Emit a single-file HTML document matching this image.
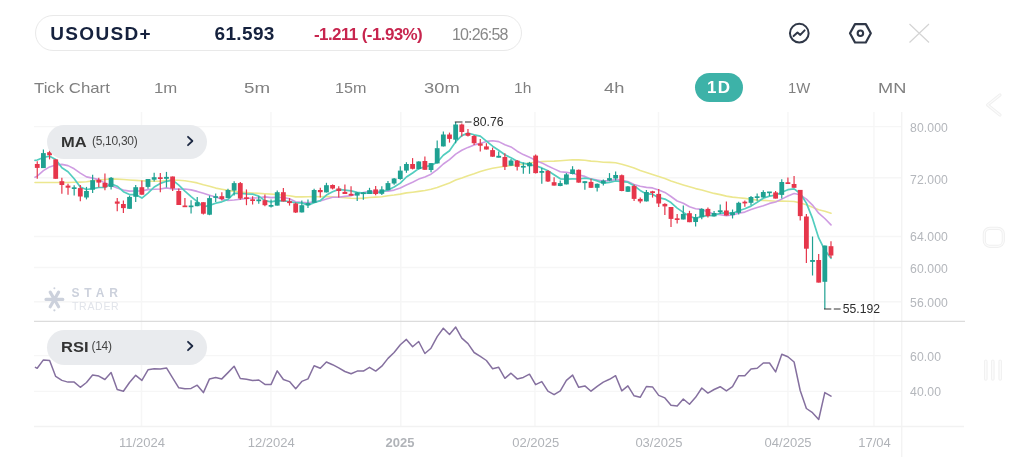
<!DOCTYPE html>
<html><head><meta charset="utf-8"><title>USOUSD+ chart</title>
<style>
html,body{margin:0;padding:0;background:#fff;}
body{width:1024px;height:473px;position:relative;overflow:hidden;font-family:"Liberation Sans",sans-serif;}
.abs{position:absolute;white-space:nowrap;line-height:1;}
.pill{position:absolute;left:35.2px;top:15.4px;width:485.2px;height:33.4px;border:1.4px solid #e9e9e9;border-radius:19px;background:#fff;}
.sym{left:50.2px;top:23.9px;font-size:19px;font-weight:bold;color:#15213d;letter-spacing:1.35px;}
.px{left:214.5px;top:23.8px;font-size:19px;font-weight:bold;color:#15213d;letter-spacing:0.35px;}
.chg{left:314px;top:26px;font-size:17px;font-weight:bold;color:#c7254e;letter-spacing:-0.6px;}
.tm{left:452px;top:26.7px;font-size:16px;color:#888;letter-spacing:-0.85px;}
.tf{top:80px;font-size:15px;color:#808080;}
.tfsel{position:absolute;left:695.4px;top:72.6px;width:48px;height:29.4px;border-radius:15px;background:#3db2a8;}
.tfsel span{position:absolute;left:-0.6px;right:0;top:6.6px;text-align:center;color:#fff;font-weight:bold;font-size:17px;line-height:1;letter-spacing:1.2px;}
.ind{position:absolute;background:#e9ebee;border-radius:17.5px;}
.ind b{position:absolute;left:14.2px;top:9px;font-size:15px;color:#333;line-height:1;transform:scaleX(1.1);transform-origin:0 0;}
.ind i{position:absolute;font-style:normal;top:10.7px;font-size:12px;color:#444;line-height:1;letter-spacing:-0.3px;}
.ax{font-size:12.2px;color:#b4b7bc;left:910px;letter-spacing:0.12px;}
.xl{font-size:13px;color:#b0b3b8;top:435.7px;transform:translateX(-50%);}
.wm1{left:71.5px;top:287.3px;font-size:12px;font-weight:bold;color:#ccd1dc;letter-spacing:4.85px;}
.wm2{left:72px;top:300.7px;font-size:10.5px;color:#e1e4ea;letter-spacing:0.7px;}
</style></head><body>
<svg width="1024" height="473" viewBox="0 0 1024 473" style="position:absolute;left:0;top:0">
<line x1="34" y1="126.6" x2="901.5" y2="126.6" stroke="#f6f6f6" stroke-width="1.4"/>
<line x1="34" y1="177.8" x2="901.5" y2="177.8" stroke="#f6f6f6" stroke-width="1.4"/>
<line x1="34" y1="236.5" x2="901.5" y2="236.5" stroke="#f6f6f6" stroke-width="1.4"/>
<line x1="34" y1="267.5" x2="901.5" y2="267.5" stroke="#f6f6f6" stroke-width="1.4"/>
<line x1="34" y1="301.7" x2="901.5" y2="301.7" stroke="#f6f6f6" stroke-width="1.4"/>
<line x1="34" y1="355.6" x2="901.5" y2="355.6" stroke="#f6f6f6" stroke-width="1.4"/>
<line x1="34" y1="391.4" x2="901.5" y2="391.4" stroke="#f6f6f6" stroke-width="1.4"/>
<line x1="141.5" y1="112" x2="141.5" y2="426" stroke="#f6f6f6" stroke-width="1.4"/>
<line x1="271" y1="112" x2="271" y2="426" stroke="#f6f6f6" stroke-width="1.4"/>
<line x1="400.8" y1="112" x2="400.8" y2="426" stroke="#f6f6f6" stroke-width="1.4"/>
<line x1="535" y1="112" x2="535" y2="426" stroke="#f6f6f6" stroke-width="1.4"/>
<line x1="658.5" y1="112" x2="658.5" y2="426" stroke="#f6f6f6" stroke-width="1.4"/>
<line x1="788" y1="112" x2="788" y2="426" stroke="#f6f6f6" stroke-width="1.4"/>
<line x1="874" y1="112" x2="874" y2="426" stroke="#f6f6f6" stroke-width="1.4"/>
<line x1="901.7" y1="112" x2="901.7" y2="457" stroke="#f3f3f3" stroke-width="1.4"/>
<line x1="34" y1="321.3" x2="965" y2="321.3" stroke="#dcdcdc" stroke-width="1.2"/>
<line x1="34" y1="426.5" x2="964" y2="426.5" stroke="#f2f2f2" stroke-width="1.4"/>
<polyline points="35,182.5 37.2,182.5 43.4,182.5 49.6,182.5 55.7,182.5 61.9,182.5 68.0,182.5 74.2,182.3 80.3,182.1 86.5,181.8 92.6,180.9 98.8,180.1 104.9,179.5 111.1,178.9 117.2,179.1 123.4,179.5 129.5,180.0 135.7,180.4 141.9,180.8 148.0,181.1 154.2,181.2 160.3,181.2 166.5,180.5 172.6,180.1 178.8,180.2 184.9,180.8 191.1,181.7 197.2,182.9 203.4,184.8 209.5,186.2 215.7,188.1 221.8,189.2 228.0,190.4 234.1,191.4 240.3,192.1 246.5,192.5 252.6,193.0 258.8,193.4 264.9,193.7 271.1,194.1 277.2,194.5 283.4,195.2 289.5,195.7 295.7,196.9 301.8,196.9 308.0,196.8 314.1,196.5 320.3,196.7 326.4,196.4 332.6,196.7 338.7,197.2 344.9,197.7 351.1,198.3 357.2,198.5 363.4,198.1 369.5,197.5 375.7,197.1 381.8,196.7 388.0,195.7 394.1,195.0 400.3,194.1 406.4,192.9 412.6,192.2 418.7,191.4 424.9,190.5 431.0,189.3 437.2,187.5 443.3,185.2 449.5,182.9 455.7,180.1 461.8,178.1 468.0,175.8 474.1,173.8 480.3,171.6 486.4,169.8 492.6,168.3 498.7,167.2 504.9,166.3 511.0,165.5 517.2,164.8 523.3,164.0 529.5,163.0 535.6,162.3 541.8,161.6 547.9,161.2 554.1,161.1 560.3,160.7 566.4,160.3 572.6,159.8 578.7,159.9 584.9,160.3 591.0,161.1 597.2,161.5 603.3,162.2 609.5,162.4 615.6,162.8 621.8,164.2 627.9,166.0 634.1,168.0 640.2,170.6 646.4,172.6 652.5,174.5 658.7,176.6 664.9,178.6 671.0,180.9 677.2,183.0 683.3,184.9 689.5,186.7 695.6,188.6 701.8,190.0 707.9,191.7 714.1,193.4 720.2,194.6 726.4,196.1 732.5,197.1 738.7,197.7 744.8,198.4 751.0,199.2 757.2,200.1 763.3,200.4 769.5,200.8 775.6,201.2 781.8,201.1 787.9,201.2 794.1,201.5 800.2,202.9 806.4,204.8 812.5,207.2 818.7,209.8 824.8,211.2 831.0,213.3" fill="none" stroke="#ece78f" stroke-width="1.6" stroke-linejoin="round" stroke-linecap="round"/>
<polyline points="35,177.2 37.2,176.2 43.4,170.6 49.6,166.9 55.7,165.0 61.9,164.4 68.0,165.6 74.2,168.8 80.3,173.1 86.5,176.9 92.6,178.1 98.8,179.6 104.9,183.1 111.1,185.4 117.2,187.9 123.4,190.1 129.5,191.1 135.7,191.0 141.9,190.9 148.0,189.6 154.2,189.3 160.3,189.0 166.5,187.9 172.6,189.0 178.8,189.1 184.9,189.0 191.1,189.9 197.2,191.4 203.4,193.3 209.5,195.2 215.7,197.1 221.8,199.2 228.0,200.5 234.1,200.0 240.3,199.3 246.5,198.5 252.6,198.0 258.8,197.7 264.9,196.9 271.1,197.6 277.2,197.2 283.4,197.5 289.5,198.8 295.7,201.7 301.8,202.4 308.0,202.9 314.1,201.8 320.3,201.0 326.4,199.0 332.6,197.3 338.7,197.2 344.9,196.4 351.1,195.7 357.2,193.7 363.4,192.5 369.5,191.2 375.7,191.6 381.8,191.3 388.0,191.1 394.1,190.1 400.3,188.0 406.4,185.0 412.6,182.3 418.7,179.1 424.9,176.9 431.0,174.2 437.2,169.6 443.3,164.0 449.5,159.6 455.7,154.1 461.8,150.3 468.0,147.4 474.1,144.9 480.3,143.4 486.4,141.4 492.6,140.8 498.7,141.6 504.9,144.7 511.0,146.9 517.2,151.2 523.3,154.6 529.5,157.3 535.6,160.3 541.8,162.9 547.9,166.0 554.1,168.9 560.3,171.7 566.4,172.4 572.6,173.3 578.7,174.9 584.9,176.4 591.0,178.9 597.2,180.0 603.3,181.0 609.5,180.6 615.6,179.6 621.8,180.3 627.9,181.5 634.1,184.5 640.2,186.3 646.4,187.4 652.5,187.9 658.7,189.9 664.9,192.4 671.0,196.5 677.2,201.0 683.3,203.2 689.5,206.8 695.6,208.7 701.8,209.4 707.9,211.9 714.1,213.9 720.2,214.7 726.4,215.6 732.5,214.9 738.7,213.2 744.8,212.1 751.0,209.6 757.2,207.5 763.3,205.8 769.5,203.4 775.6,202.0 781.8,199.1 787.9,196.0 794.1,193.5 800.2,194.8 806.4,199.1 812.5,205.1 818.7,213.2 824.8,218.5 831.0,224.9" fill="none" stroke="#cf9ce2" stroke-width="1.6" stroke-linejoin="round" stroke-linecap="round"/>
<polyline points="35,160.4 37.2,160.0 43.4,157.5 49.6,156.2 55.7,159.5 61.9,167.8 68.0,171.8 74.2,178.7 80.3,187.1 86.5,189.5 92.6,188.6 98.8,187.5 104.9,187.5 111.1,183.7 117.2,186.2 123.4,191.7 129.5,194.6 135.7,194.6 141.9,198.1 148.0,193.1 154.2,187.0 160.3,183.4 166.5,181.3 172.6,180.1 178.8,185.2 184.9,191.1 191.1,196.6 197.2,201.7 203.4,206.8 209.5,205.4 215.7,203.2 221.8,201.8 228.0,199.4 234.1,193.3 240.3,193.3 246.5,193.8 252.6,194.1 258.8,196.1 264.9,200.6 271.1,201.9 277.2,200.7 283.4,200.8 289.5,201.5 295.7,202.9 301.8,202.9 308.0,205.1 314.1,202.7 320.3,200.6 326.4,195.1 332.6,191.8 338.7,189.4 344.9,190.2 351.1,190.9 357.2,192.3 363.4,193.2 369.5,193.0 375.7,193.0 381.8,191.8 388.0,189.9 394.1,187.0 400.3,183.1 406.4,177.0 412.6,173.0 418.7,168.6 424.9,166.9 431.0,165.4 437.2,162.2 443.3,155.3 449.5,150.7 455.7,141.7 461.8,135.6 468.0,133.1 474.1,134.8 480.3,136.2 486.4,141.2 492.6,146.2 498.7,150.2 504.9,154.8 511.0,157.8 517.2,161.3 523.3,163.2 529.5,164.6 535.6,165.8 541.8,167.9 547.9,170.8 554.1,174.7 560.3,178.8 566.4,179.1 572.6,178.8 578.7,179.0 584.9,178.1 591.0,179.0 597.2,180.9 603.3,183.2 609.5,182.3 615.6,181.0 621.8,181.7 627.9,182.2 634.1,185.8 640.2,190.4 646.4,193.9 652.5,194.2 658.7,197.7 664.9,199.1 671.0,202.6 677.2,208.1 683.3,212.4 689.5,216.2 695.6,218.4 701.8,216.4 707.9,215.6 714.1,215.5 720.2,213.1 726.4,212.8 732.5,213.4 738.7,210.8 744.8,208.8 751.0,206.1 757.2,202.3 763.3,198.3 769.5,196.1 775.6,195.2 781.8,192.2 787.9,189.7 794.1,188.8 800.2,193.5 806.4,203.1 812.5,218.4 818.7,237.9 824.8,250.1 831.0,258.3" fill="none" stroke="#52cdbf" stroke-width="1.7" stroke-linejoin="round" stroke-linecap="round"/>
<line x1="37.25" y1="161.2" x2="37.25" y2="178.8" stroke="#e6364b" stroke-width="1.2"/>
<rect x="34.85" y="164.0" width="4.8" height="3.9" fill="#e6364b"/>
<line x1="43.40" y1="149.4" x2="43.40" y2="168.1" stroke="#1fa192" stroke-width="1.2"/>
<rect x="41.00" y="153.1" width="4.8" height="15.0" fill="#1fa192"/>
<line x1="49.56" y1="150.6" x2="49.56" y2="159.4" stroke="#e6364b" stroke-width="1.2"/>
<rect x="47.16" y="152.2" width="4.8" height="3.0" fill="#e6364b"/>
<line x1="55.71" y1="159.4" x2="55.71" y2="178.8" stroke="#e6364b" stroke-width="1.2"/>
<rect x="53.31" y="159.4" width="4.8" height="19.4" fill="#e6364b"/>
<line x1="61.86" y1="177.8" x2="61.86" y2="193.8" stroke="#e6364b" stroke-width="1.2"/>
<rect x="59.46" y="181.2" width="4.8" height="3.8" fill="#e6364b"/>
<line x1="68.02" y1="183.8" x2="68.02" y2="194.8" stroke="#e6364b" stroke-width="1.2"/>
<rect x="65.61" y="185.6" width="4.8" height="2.1" fill="#e6364b"/>
<line x1="74.17" y1="185.2" x2="74.17" y2="195.6" stroke="#1fa192" stroke-width="1.2"/>
<rect x="71.77" y="187.3" width="4.8" height="1.7" fill="#1fa192"/>
<line x1="80.32" y1="185.0" x2="80.32" y2="201.2" stroke="#e6364b" stroke-width="1.2"/>
<rect x="77.92" y="188.1" width="4.8" height="8.4" fill="#e6364b"/>
<line x1="86.47" y1="186.9" x2="86.47" y2="199.4" stroke="#1fa192" stroke-width="1.2"/>
<rect x="84.07" y="191.0" width="4.8" height="6.5" fill="#1fa192"/>
<line x1="92.63" y1="174.8" x2="92.63" y2="193.1" stroke="#1fa192" stroke-width="1.2"/>
<rect x="90.23" y="180.2" width="4.8" height="9.5" fill="#1fa192"/>
<line x1="98.78" y1="177.8" x2="98.78" y2="187.2" stroke="#e6364b" stroke-width="1.2"/>
<rect x="96.38" y="179.8" width="4.8" height="2.8" fill="#e6364b"/>
<line x1="104.93" y1="173.5" x2="104.93" y2="190.2" stroke="#e6364b" stroke-width="1.2"/>
<rect x="102.53" y="182.9" width="4.8" height="4.4" fill="#e6364b"/>
<line x1="111.09" y1="176.9" x2="111.09" y2="189.4" stroke="#1fa192" stroke-width="1.2"/>
<rect x="108.69" y="177.8" width="4.8" height="9.1" fill="#1fa192"/>
<line x1="117.24" y1="198.1" x2="117.24" y2="211.2" stroke="#e6364b" stroke-width="1.2"/>
<rect x="114.84" y="201.5" width="4.8" height="2.2" fill="#e6364b"/>
<line x1="123.39" y1="200.6" x2="123.39" y2="213.1" stroke="#e6364b" stroke-width="1.2"/>
<rect x="120.99" y="204.0" width="4.8" height="4.1" fill="#e6364b"/>
<line x1="129.54" y1="195.6" x2="129.54" y2="208.8" stroke="#1fa192" stroke-width="1.2"/>
<rect x="127.14" y="196.9" width="4.8" height="11.9" fill="#1fa192"/>
<line x1="135.70" y1="185.0" x2="135.70" y2="201.9" stroke="#1fa192" stroke-width="1.2"/>
<rect x="133.30" y="187.2" width="4.8" height="9.6" fill="#1fa192"/>
<line x1="141.85" y1="180.6" x2="141.85" y2="194.8" stroke="#e6364b" stroke-width="1.2"/>
<rect x="139.45" y="187.2" width="4.8" height="7.5" fill="#e6364b"/>
<line x1="148.00" y1="179.0" x2="148.00" y2="188.8" stroke="#1fa192" stroke-width="1.2"/>
<rect x="145.60" y="179.0" width="4.8" height="7.9" fill="#1fa192"/>
<line x1="154.16" y1="172.8" x2="154.16" y2="181.5" stroke="#1fa192" stroke-width="1.2"/>
<rect x="151.76" y="177.2" width="4.8" height="2.5" fill="#1fa192"/>
<line x1="160.31" y1="173.1" x2="160.31" y2="192.2" stroke="#e6364b" stroke-width="1.2"/>
<rect x="157.91" y="177.3" width="4.8" height="1.7" fill="#e6364b"/>
<line x1="166.46" y1="171.9" x2="166.46" y2="187.5" stroke="#1fa192" stroke-width="1.2"/>
<rect x="164.06" y="176.9" width="4.8" height="1.9" fill="#1fa192"/>
<line x1="172.62" y1="176.5" x2="172.62" y2="191.0" stroke="#e6364b" stroke-width="1.2"/>
<rect x="170.22" y="176.5" width="4.8" height="12.0" fill="#e6364b"/>
<line x1="178.77" y1="188.5" x2="178.77" y2="205.0" stroke="#e6364b" stroke-width="1.2"/>
<rect x="176.37" y="191.0" width="4.8" height="14.0" fill="#e6364b"/>
<line x1="184.92" y1="198.1" x2="184.92" y2="207.1" stroke="#e6364b" stroke-width="1.2"/>
<rect x="182.52" y="205.5" width="4.8" height="1.7" fill="#e6364b"/>
<line x1="191.07" y1="200.2" x2="191.07" y2="213.5" stroke="#1fa192" stroke-width="1.2"/>
<rect x="188.67" y="205.5" width="4.8" height="1.7" fill="#1fa192"/>
<line x1="197.23" y1="196.9" x2="197.23" y2="206.2" stroke="#1fa192" stroke-width="1.2"/>
<rect x="194.83" y="202.2" width="4.8" height="4.0" fill="#1fa192"/>
<line x1="203.38" y1="202.2" x2="203.38" y2="214.4" stroke="#e6364b" stroke-width="1.2"/>
<rect x="200.98" y="202.2" width="4.8" height="11.5" fill="#e6364b"/>
<line x1="209.53" y1="195.6" x2="209.53" y2="215.2" stroke="#1fa192" stroke-width="1.2"/>
<rect x="207.13" y="198.1" width="4.8" height="16.6" fill="#1fa192"/>
<line x1="215.69" y1="193.5" x2="215.69" y2="201.9" stroke="#1fa192" stroke-width="1.2"/>
<rect x="213.29" y="196.2" width="4.8" height="1.7" fill="#1fa192"/>
<line x1="221.84" y1="192.2" x2="221.84" y2="200.6" stroke="#e6364b" stroke-width="1.2"/>
<rect x="219.44" y="196.2" width="4.8" height="2.8" fill="#e6364b"/>
<line x1="227.99" y1="188.8" x2="227.99" y2="198.1" stroke="#1fa192" stroke-width="1.2"/>
<rect x="225.59" y="190.0" width="4.8" height="8.1" fill="#1fa192"/>
<line x1="234.15" y1="181.2" x2="234.15" y2="195.6" stroke="#1fa192" stroke-width="1.2"/>
<rect x="231.75" y="183.1" width="4.8" height="7.5" fill="#1fa192"/>
<line x1="240.30" y1="181.9" x2="240.30" y2="199.8" stroke="#e6364b" stroke-width="1.2"/>
<rect x="237.90" y="183.1" width="4.8" height="15.4" fill="#e6364b"/>
<line x1="246.45" y1="189.4" x2="246.45" y2="205.2" stroke="#e6364b" stroke-width="1.2"/>
<rect x="244.05" y="197.3" width="4.8" height="1.7" fill="#e6364b"/>
<line x1="252.60" y1="196.2" x2="252.60" y2="204.4" stroke="#e6364b" stroke-width="1.2"/>
<rect x="250.20" y="199.3" width="4.8" height="1.7" fill="#e6364b"/>
<line x1="258.76" y1="196.2" x2="258.76" y2="203.8" stroke="#1fa192" stroke-width="1.2"/>
<rect x="256.36" y="199.5" width="4.8" height="1.7" fill="#1fa192"/>
<line x1="264.91" y1="194.4" x2="264.91" y2="206.2" stroke="#e6364b" stroke-width="1.2"/>
<rect x="262.51" y="200.2" width="4.8" height="5.0" fill="#e6364b"/>
<line x1="271.06" y1="199.4" x2="271.06" y2="207.5" stroke="#1fa192" stroke-width="1.2"/>
<rect x="268.66" y="205.0" width="4.8" height="1.7" fill="#1fa192"/>
<line x1="277.22" y1="190.6" x2="277.22" y2="205.6" stroke="#1fa192" stroke-width="1.2"/>
<rect x="274.82" y="192.2" width="4.8" height="13.4" fill="#1fa192"/>
<line x1="283.37" y1="188.1" x2="283.37" y2="201.5" stroke="#e6364b" stroke-width="1.2"/>
<rect x="280.97" y="192.2" width="4.8" height="9.2" fill="#e6364b"/>
<line x1="289.52" y1="198.1" x2="289.52" y2="205.6" stroke="#e6364b" stroke-width="1.2"/>
<rect x="287.12" y="201.2" width="4.8" height="1.9" fill="#e6364b"/>
<line x1="295.68" y1="202.5" x2="295.68" y2="213.1" stroke="#e6364b" stroke-width="1.2"/>
<rect x="293.28" y="203.5" width="4.8" height="9.0" fill="#e6364b"/>
<line x1="301.83" y1="200.6" x2="301.83" y2="212.5" stroke="#1fa192" stroke-width="1.2"/>
<rect x="299.43" y="205.2" width="4.8" height="7.2" fill="#1fa192"/>
<line x1="307.98" y1="199.4" x2="307.98" y2="208.1" stroke="#1fa192" stroke-width="1.2"/>
<rect x="305.58" y="203.1" width="4.8" height="2.1" fill="#1fa192"/>
<line x1="314.13" y1="188.8" x2="314.13" y2="202.8" stroke="#1fa192" stroke-width="1.2"/>
<rect x="311.74" y="190.0" width="4.8" height="12.8" fill="#1fa192"/>
<line x1="320.29" y1="187.8" x2="320.29" y2="197.5" stroke="#e6364b" stroke-width="1.2"/>
<rect x="317.89" y="190.0" width="4.8" height="2.2" fill="#e6364b"/>
<line x1="326.44" y1="182.8" x2="326.44" y2="192.5" stroke="#1fa192" stroke-width="1.2"/>
<rect x="324.04" y="185.2" width="4.8" height="7.2" fill="#1fa192"/>
<line x1="332.59" y1="184.4" x2="332.59" y2="189.4" stroke="#e6364b" stroke-width="1.2"/>
<rect x="330.19" y="185.0" width="4.8" height="3.5" fill="#e6364b"/>
<line x1="338.75" y1="186.2" x2="338.75" y2="197.5" stroke="#e6364b" stroke-width="1.2"/>
<rect x="336.35" y="188.5" width="4.8" height="2.5" fill="#e6364b"/>
<line x1="344.90" y1="184.4" x2="344.90" y2="194.0" stroke="#e6364b" stroke-width="1.2"/>
<rect x="342.50" y="191.9" width="4.8" height="2.1" fill="#e6364b"/>
<line x1="351.05" y1="186.2" x2="351.05" y2="195.6" stroke="#e6364b" stroke-width="1.2"/>
<rect x="348.65" y="193.8" width="4.8" height="1.9" fill="#e6364b"/>
<line x1="357.21" y1="191.9" x2="357.21" y2="201.0" stroke="#1fa192" stroke-width="1.2"/>
<rect x="354.81" y="192.5" width="4.8" height="3.1" fill="#1fa192"/>
<line x1="363.36" y1="191.9" x2="363.36" y2="199.8" stroke="#1fa192" stroke-width="1.2"/>
<rect x="360.96" y="192.4" width="4.8" height="1.7" fill="#1fa192"/>
<line x1="369.51" y1="187.8" x2="369.51" y2="194.0" stroke="#1fa192" stroke-width="1.2"/>
<rect x="367.11" y="190.2" width="4.8" height="3.8" fill="#1fa192"/>
<line x1="375.66" y1="186.0" x2="375.66" y2="195.2" stroke="#e6364b" stroke-width="1.2"/>
<rect x="373.26" y="189.4" width="4.8" height="4.6" fill="#e6364b"/>
<line x1="381.82" y1="186.2" x2="381.82" y2="195.0" stroke="#1fa192" stroke-width="1.2"/>
<rect x="379.42" y="189.4" width="4.8" height="4.4" fill="#1fa192"/>
<line x1="387.97" y1="181.0" x2="387.97" y2="190.2" stroke="#1fa192" stroke-width="1.2"/>
<rect x="385.57" y="183.1" width="4.8" height="7.1" fill="#1fa192"/>
<line x1="394.12" y1="178.1" x2="394.12" y2="184.8" stroke="#1fa192" stroke-width="1.2"/>
<rect x="391.72" y="178.5" width="4.8" height="5.0" fill="#1fa192"/>
<line x1="400.28" y1="166.2" x2="400.28" y2="179.8" stroke="#1fa192" stroke-width="1.2"/>
<rect x="397.88" y="170.6" width="4.8" height="8.4" fill="#1fa192"/>
<line x1="406.43" y1="162.2" x2="406.43" y2="172.8" stroke="#1fa192" stroke-width="1.2"/>
<rect x="404.03" y="164.0" width="4.8" height="6.6" fill="#1fa192"/>
<line x1="412.58" y1="158.1" x2="412.58" y2="169.4" stroke="#e6364b" stroke-width="1.2"/>
<rect x="410.18" y="164.0" width="4.8" height="4.8" fill="#e6364b"/>
<line x1="418.74" y1="161.2" x2="418.74" y2="169.4" stroke="#1fa192" stroke-width="1.2"/>
<rect x="416.34" y="161.5" width="4.8" height="7.5" fill="#1fa192"/>
<line x1="424.89" y1="156.5" x2="424.89" y2="169.8" stroke="#e6364b" stroke-width="1.2"/>
<rect x="422.49" y="161.0" width="4.8" height="8.8" fill="#e6364b"/>
<line x1="431.04" y1="163.1" x2="431.04" y2="172.2" stroke="#1fa192" stroke-width="1.2"/>
<rect x="428.64" y="163.1" width="4.8" height="6.9" fill="#1fa192"/>
<line x1="437.19" y1="140.5" x2="437.19" y2="163.5" stroke="#1fa192" stroke-width="1.2"/>
<rect x="434.80" y="148.2" width="4.8" height="15.2" fill="#1fa192"/>
<line x1="443.35" y1="131.4" x2="443.35" y2="146.4" stroke="#1fa192" stroke-width="1.2"/>
<rect x="440.95" y="134.5" width="4.8" height="11.9" fill="#1fa192"/>
<line x1="449.50" y1="132.6" x2="449.50" y2="142.6" stroke="#e6364b" stroke-width="1.2"/>
<rect x="447.10" y="134.5" width="4.8" height="4.4" fill="#e6364b"/>
<line x1="455.65" y1="122.0" x2="455.65" y2="143.2" stroke="#1fa192" stroke-width="1.2"/>
<rect x="453.25" y="124.5" width="4.8" height="15.2" fill="#1fa192"/>
<line x1="461.81" y1="123.5" x2="461.81" y2="136.4" stroke="#e6364b" stroke-width="1.2"/>
<rect x="459.41" y="124.5" width="4.8" height="7.5" fill="#e6364b"/>
<line x1="467.96" y1="128.9" x2="467.96" y2="136.4" stroke="#e6364b" stroke-width="1.2"/>
<rect x="465.56" y="133.0" width="4.8" height="2.8" fill="#e6364b"/>
<line x1="474.11" y1="135.1" x2="474.11" y2="145.1" stroke="#e6364b" stroke-width="1.2"/>
<rect x="471.71" y="136.0" width="4.8" height="7.2" fill="#e6364b"/>
<line x1="480.27" y1="138.9" x2="480.27" y2="151.4" stroke="#e6364b" stroke-width="1.2"/>
<rect x="477.87" y="143.5" width="4.8" height="2.2" fill="#e6364b"/>
<line x1="486.42" y1="143.2" x2="486.42" y2="149.5" stroke="#e6364b" stroke-width="1.2"/>
<rect x="484.02" y="146.4" width="4.8" height="3.1" fill="#e6364b"/>
<line x1="492.57" y1="147.6" x2="492.57" y2="156.8" stroke="#e6364b" stroke-width="1.2"/>
<rect x="490.17" y="150.1" width="4.8" height="6.6" fill="#e6364b"/>
<line x1="498.72" y1="151.4" x2="498.72" y2="157.6" stroke="#1fa192" stroke-width="1.2"/>
<rect x="496.32" y="155.8" width="4.8" height="1.9" fill="#1fa192"/>
<line x1="504.88" y1="153.2" x2="504.88" y2="170.1" stroke="#e6364b" stroke-width="1.2"/>
<rect x="502.48" y="157.0" width="4.8" height="9.8" fill="#e6364b"/>
<line x1="511.03" y1="158.9" x2="511.03" y2="165.8" stroke="#1fa192" stroke-width="1.2"/>
<rect x="508.63" y="160.5" width="4.8" height="5.2" fill="#1fa192"/>
<line x1="517.18" y1="160.0" x2="517.18" y2="170.6" stroke="#e6364b" stroke-width="1.2"/>
<rect x="514.78" y="160.6" width="4.8" height="6.2" fill="#e6364b"/>
<line x1="523.34" y1="162.5" x2="523.34" y2="173.8" stroke="#1fa192" stroke-width="1.2"/>
<rect x="520.94" y="165.9" width="4.8" height="1.7" fill="#1fa192"/>
<line x1="529.49" y1="161.9" x2="529.49" y2="173.8" stroke="#1fa192" stroke-width="1.2"/>
<rect x="527.09" y="162.8" width="4.8" height="3.5" fill="#1fa192"/>
<line x1="535.64" y1="154.4" x2="535.64" y2="173.5" stroke="#e6364b" stroke-width="1.2"/>
<rect x="533.24" y="155.6" width="4.8" height="17.5" fill="#e6364b"/>
<line x1="541.80" y1="168.1" x2="541.80" y2="183.8" stroke="#1fa192" stroke-width="1.2"/>
<rect x="539.40" y="171.0" width="4.8" height="1.8" fill="#1fa192"/>
<line x1="547.95" y1="170.0" x2="547.95" y2="181.9" stroke="#e6364b" stroke-width="1.2"/>
<rect x="545.55" y="171.0" width="4.8" height="10.5" fill="#e6364b"/>
<line x1="554.10" y1="177.2" x2="554.10" y2="185.6" stroke="#e6364b" stroke-width="1.2"/>
<rect x="551.70" y="182.2" width="4.8" height="3.4" fill="#e6364b"/>
<line x1="560.25" y1="180.6" x2="560.25" y2="186.2" stroke="#1fa192" stroke-width="1.2"/>
<rect x="557.86" y="183.1" width="4.8" height="2.9" fill="#1fa192"/>
<line x1="566.41" y1="173.1" x2="566.41" y2="184.4" stroke="#1fa192" stroke-width="1.2"/>
<rect x="564.01" y="174.4" width="4.8" height="10.0" fill="#1fa192"/>
<line x1="572.56" y1="166.2" x2="572.56" y2="174.4" stroke="#1fa192" stroke-width="1.2"/>
<rect x="570.16" y="169.4" width="4.8" height="4.6" fill="#1fa192"/>
<line x1="578.71" y1="169.4" x2="578.71" y2="182.8" stroke="#e6364b" stroke-width="1.2"/>
<rect x="576.31" y="169.8" width="4.8" height="12.8" fill="#e6364b"/>
<line x1="584.87" y1="181.2" x2="584.87" y2="189.8" stroke="#1fa192" stroke-width="1.2"/>
<rect x="582.47" y="181.2" width="4.8" height="1.9" fill="#1fa192"/>
<line x1="591.02" y1="178.8" x2="591.02" y2="188.1" stroke="#e6364b" stroke-width="1.2"/>
<rect x="588.62" y="181.9" width="4.8" height="5.9" fill="#e6364b"/>
<line x1="597.17" y1="183.5" x2="597.17" y2="191.5" stroke="#1fa192" stroke-width="1.2"/>
<rect x="594.77" y="183.8" width="4.8" height="4.0" fill="#1fa192"/>
<line x1="603.33" y1="179.4" x2="603.33" y2="185.6" stroke="#1fa192" stroke-width="1.2"/>
<rect x="600.93" y="180.6" width="4.8" height="2.9" fill="#1fa192"/>
<line x1="609.48" y1="173.1" x2="609.48" y2="181.2" stroke="#1fa192" stroke-width="1.2"/>
<rect x="607.08" y="178.1" width="4.8" height="2.5" fill="#1fa192"/>
<line x1="615.63" y1="171.5" x2="615.63" y2="180.6" stroke="#1fa192" stroke-width="1.2"/>
<rect x="613.23" y="175.0" width="4.8" height="3.5" fill="#1fa192"/>
<line x1="621.78" y1="174.4" x2="621.78" y2="191.2" stroke="#e6364b" stroke-width="1.2"/>
<rect x="619.38" y="175.2" width="4.8" height="15.8" fill="#e6364b"/>
<line x1="627.94" y1="186.0" x2="627.94" y2="192.0" stroke="#1fa192" stroke-width="1.2"/>
<rect x="625.54" y="186.4" width="4.8" height="5.4" fill="#1fa192"/>
<line x1="634.09" y1="184.5" x2="634.09" y2="201.0" stroke="#e6364b" stroke-width="1.2"/>
<rect x="631.69" y="186.0" width="4.8" height="12.9" fill="#e6364b"/>
<line x1="640.24" y1="197.6" x2="640.24" y2="203.2" stroke="#e6364b" stroke-width="1.2"/>
<rect x="637.84" y="198.9" width="4.8" height="2.5" fill="#e6364b"/>
<line x1="646.40" y1="190.1" x2="646.40" y2="201.4" stroke="#1fa192" stroke-width="1.2"/>
<rect x="644.00" y="192.0" width="4.8" height="9.4" fill="#1fa192"/>
<line x1="652.55" y1="190.8" x2="652.55" y2="197.6" stroke="#e6364b" stroke-width="1.2"/>
<rect x="650.15" y="191.3" width="4.8" height="1.7" fill="#e6364b"/>
<line x1="658.70" y1="188.9" x2="658.70" y2="207.0" stroke="#e6364b" stroke-width="1.2"/>
<rect x="656.30" y="193.9" width="4.8" height="9.6" fill="#e6364b"/>
<line x1="664.86" y1="203.2" x2="664.86" y2="215.1" stroke="#e6364b" stroke-width="1.2"/>
<rect x="662.46" y="203.9" width="4.8" height="2.5" fill="#e6364b"/>
<line x1="671.01" y1="207.0" x2="671.01" y2="227.0" stroke="#e6364b" stroke-width="1.2"/>
<rect x="668.61" y="207.0" width="4.8" height="11.9" fill="#e6364b"/>
<line x1="677.16" y1="213.9" x2="677.16" y2="223.5" stroke="#e6364b" stroke-width="1.2"/>
<rect x="674.76" y="218.3" width="4.8" height="1.7" fill="#e6364b"/>
<line x1="683.31" y1="205.5" x2="683.31" y2="219.5" stroke="#1fa192" stroke-width="1.2"/>
<rect x="680.91" y="213.9" width="4.8" height="5.6" fill="#1fa192"/>
<line x1="689.47" y1="210.8" x2="689.47" y2="222.2" stroke="#e6364b" stroke-width="1.2"/>
<rect x="687.07" y="213.2" width="4.8" height="9.0" fill="#e6364b"/>
<line x1="695.62" y1="213.9" x2="695.62" y2="226.4" stroke="#1fa192" stroke-width="1.2"/>
<rect x="693.22" y="217.2" width="4.8" height="4.8" fill="#1fa192"/>
<line x1="701.77" y1="208.2" x2="701.77" y2="219.2" stroke="#1fa192" stroke-width="1.2"/>
<rect x="699.37" y="208.9" width="4.8" height="8.4" fill="#1fa192"/>
<line x1="707.93" y1="207.6" x2="707.93" y2="217.6" stroke="#e6364b" stroke-width="1.2"/>
<rect x="705.53" y="208.9" width="4.8" height="7.1" fill="#e6364b"/>
<line x1="714.08" y1="211.0" x2="714.08" y2="216.4" stroke="#1fa192" stroke-width="1.2"/>
<rect x="711.68" y="213.0" width="4.8" height="3.4" fill="#1fa192"/>
<line x1="720.23" y1="204.5" x2="720.23" y2="213.9" stroke="#1fa192" stroke-width="1.2"/>
<rect x="717.83" y="210.3" width="4.8" height="1.7" fill="#1fa192"/>
<line x1="726.39" y1="201.4" x2="726.39" y2="215.5" stroke="#e6364b" stroke-width="1.2"/>
<rect x="723.99" y="210.5" width="4.8" height="5.0" fill="#e6364b"/>
<line x1="732.54" y1="209.5" x2="732.54" y2="218.5" stroke="#1fa192" stroke-width="1.2"/>
<rect x="730.14" y="212.2" width="4.8" height="2.9" fill="#1fa192"/>
<line x1="738.69" y1="201.8" x2="738.69" y2="214.5" stroke="#1fa192" stroke-width="1.2"/>
<rect x="736.29" y="202.8" width="4.8" height="10.0" fill="#1fa192"/>
<line x1="744.84" y1="200.5" x2="744.84" y2="206.8" stroke="#e6364b" stroke-width="1.2"/>
<rect x="742.44" y="201.7" width="4.8" height="1.7" fill="#e6364b"/>
<line x1="751.00" y1="196.1" x2="751.00" y2="205.2" stroke="#1fa192" stroke-width="1.2"/>
<rect x="748.60" y="197.0" width="4.8" height="5.8" fill="#1fa192"/>
<line x1="757.15" y1="193.6" x2="757.15" y2="200.8" stroke="#1fa192" stroke-width="1.2"/>
<rect x="754.75" y="196.3" width="4.8" height="1.7" fill="#1fa192"/>
<line x1="763.30" y1="190.2" x2="763.30" y2="197.8" stroke="#1fa192" stroke-width="1.2"/>
<rect x="760.90" y="192.0" width="4.8" height="5.4" fill="#1fa192"/>
<line x1="769.46" y1="192.0" x2="769.46" y2="196.1" stroke="#1fa192" stroke-width="1.2"/>
<rect x="767.06" y="191.5" width="4.8" height="1.7" fill="#1fa192"/>
<line x1="775.61" y1="191.1" x2="775.61" y2="198.6" stroke="#e6364b" stroke-width="1.2"/>
<rect x="773.21" y="192.4" width="4.8" height="6.2" fill="#e6364b"/>
<line x1="781.76" y1="179.2" x2="781.76" y2="198.6" stroke="#1fa192" stroke-width="1.2"/>
<rect x="779.36" y="182.0" width="4.8" height="12.9" fill="#1fa192"/>
<line x1="787.92" y1="177.4" x2="787.92" y2="184.0" stroke="#e6364b" stroke-width="1.2"/>
<rect x="785.52" y="182.3" width="4.8" height="1.7" fill="#e6364b"/>
<line x1="794.07" y1="176.1" x2="794.07" y2="187.8" stroke="#e6364b" stroke-width="1.2"/>
<rect x="791.67" y="184.0" width="4.8" height="3.8" fill="#e6364b"/>
<line x1="800.22" y1="189.9" x2="800.22" y2="220.5" stroke="#e6364b" stroke-width="1.2"/>
<rect x="797.82" y="189.9" width="4.8" height="26.2" fill="#e6364b"/>
<line x1="806.38" y1="214.0" x2="806.38" y2="263.0" stroke="#e6364b" stroke-width="1.2"/>
<rect x="803.98" y="216.5" width="4.8" height="32.2" fill="#e6364b"/>
<line x1="812.53" y1="236.5" x2="812.53" y2="275.5" stroke="#1fa192" stroke-width="1.2"/>
<rect x="810.13" y="260.0" width="4.8" height="1.9" fill="#1fa192"/>
<line x1="818.68" y1="254.0" x2="818.68" y2="282.6" stroke="#e6364b" stroke-width="1.2"/>
<rect x="816.28" y="260.0" width="4.8" height="22.6" fill="#e6364b"/>
<line x1="824.83" y1="245.6" x2="824.83" y2="308.9" stroke="#1fa192" stroke-width="1.2"/>
<rect x="822.43" y="245.6" width="4.8" height="36.2" fill="#1fa192"/>
<line x1="830.99" y1="241.2" x2="830.99" y2="258.1" stroke="#e6364b" stroke-width="1.2"/>
<rect x="828.59" y="246.2" width="4.8" height="9.3" fill="#e6364b"/>
<path d="M454.8 122H462.5M465 122H471.5" stroke="#333" stroke-width="1" fill="none"/>
<text x="473" y="126.3" font-family="Liberation Sans, sans-serif" font-size="12.2" fill="#2c2c2c">80.76</text>
<path d="M824 309H831.3M833.8 309H840.6" stroke="#333" stroke-width="1" fill="none"/>
<text x="842.7" y="313.3" font-family="Liberation Sans, sans-serif" font-size="12.2" fill="#2c2c2c">55.192</text>
<polyline points="35.4,367.3 37.2,368.3 43.4,359.9 49.6,360.5 55.7,376.4 61.9,380.4 68.0,382.1 74.2,382.1 80.3,387.3 86.5,382.5 92.6,375.1 98.8,376.1 104.9,379.5 111.1,372.6 117.2,389.5 123.4,391.2 129.5,382.5 135.7,375.3 141.9,380.4 148.0,369.8 154.2,368.7 160.3,369.0 166.5,367.9 172.6,377.8 178.8,387.8 184.9,388.8 191.1,388.4 197.2,385.2 203.4,392.6 209.5,378.9 215.7,377.4 221.8,378.9 228.0,372.6 234.1,366.2 240.3,378.5 246.5,379.3 252.6,380.6 258.8,380.0 264.9,384.4 271.1,384.4 277.2,370.9 283.4,379.5 289.5,381.6 295.7,388.8 301.8,381.4 308.0,378.9 314.1,365.8 320.3,368.3 326.4,362.0 332.6,364.7 338.7,367.9 344.9,371.5 351.1,373.8 357.2,371.1 363.4,371.1 369.5,367.3 375.7,371.1 381.8,366.2 388.0,358.4 394.1,352.5 400.3,344.7 406.4,339.4 412.6,346.8 418.7,341.5 424.9,353.5 431.0,348.2 437.2,336.6 443.3,328.2 449.5,334.5 455.7,327.1 461.8,338.1 468.0,343.6 474.1,352.5 480.3,356.3 486.4,360.5 492.6,368.7 498.7,367.3 504.9,378.3 511.0,373.2 517.2,378.9 523.3,377.4 529.5,374.2 535.6,384.6 541.8,381.6 547.9,391.2 554.1,394.7 560.3,390.9 566.4,380.4 572.6,375.1 578.7,387.3 584.9,385.9 591.0,391.2 597.2,386.3 603.3,382.1 609.5,379.3 615.6,375.7 621.8,390.9 627.9,385.9 634.1,395.8 640.2,397.3 646.4,386.5 652.5,386.9 658.7,395.4 664.9,397.9 671.0,405.3 677.2,405.9 683.3,399.0 689.5,404.3 695.6,397.3 701.8,388.0 707.9,393.1 714.1,389.5 720.2,386.7 726.4,390.9 732.5,386.7 738.7,375.7 744.8,375.7 751.0,369.0 757.2,368.3 763.3,363.0 769.5,363.0 775.6,371.9 781.8,354.2 787.9,356.7 794.1,362.0 800.2,390.5 806.4,408.5 812.5,412.7 818.7,419.5 824.8,392.6 831.0,396.2" fill="none" stroke="#85709f" stroke-width="1.5" stroke-linejoin="round" stroke-linecap="round"/>
</svg>
<div class="pill"></div>
<div class="abs sym">USOUSD+</div>
<div class="abs px">61.593</div>
<div class="abs chg">-1.211 (-1.93%)</div>
<div class="abs tm">10:26:58</div>

<div class="abs tf" style="left:34.4px;transform:scaleX(1.119);transform-origin:0 0">Tick Chart</div>
<div class="abs tf" style="left:153.9px;transform:scaleX(1.118);transform-origin:0 0">1m</div>
<div class="abs tf" style="left:244.2px;transform:scaleX(1.250);transform-origin:0 0">5m</div>
<div class="abs tf" style="left:334.9px;transform:scaleX(1.077);transform-origin:0 0">15m</div>
<div class="abs tf" style="left:423.8px;transform:scaleX(1.222);transform-origin:0 0">30m</div>
<div class="abs tf" style="left:514.0px;transform:scaleX(1.036);transform-origin:0 0">1h</div>
<div class="abs tf" style="left:604.3px;transform:scaleX(1.217);transform-origin:0 0">4h</div>
<div class="tfsel"><span>1D</span></div>
<div class="abs tf" style="left:787.8px;transform:scaleX(0.988);transform-origin:0 0">1W</div>
<div class="abs tf" style="left:877.5px;transform:scaleX(1.212);transform-origin:0 0">MN</div>

<svg class="abs" style="left:780px;top:15px" width="260" height="40" viewBox="780 15 260 40" fill="none">
 <circle cx="799.3" cy="33.2" r="9.35" stroke="#2f3747" stroke-width="2"/>
 <path d="M793.6 36.1L797.5 32.5L800.3 34.9L804.6 30.4" stroke="#2f3747" stroke-width="2" stroke-linecap="round" stroke-linejoin="round"/>
 <path d="M850 33.3L855 24.1H865.8L870.8 33.3L865.8 42.5H855Z" stroke="#2f3747" stroke-width="2.2" stroke-linejoin="round"/>
 <circle cx="860.4" cy="33.3" r="2.75" stroke="#2f3747" stroke-width="2.1"/>
 <path d="M909.5 24L929 42.5M929 24L909.5 42.5" stroke="#d4d4d4" stroke-width="1.2"/>
</svg>
<svg class="abs" style="left:970px;top:80px" width="54" height="320" viewBox="970 80 54 320" fill="none">
 <path d="M1000 95L987.6 104.9L1000 115" stroke="#f0f0f0" stroke-width="3.2" stroke-linejoin="round" stroke-linecap="round"/>
 <path d="M1000 95L987.6 104.9L1000 115" stroke="#fbfbfb" stroke-width="1.2" stroke-linejoin="round" stroke-linecap="round"/>
 <rect x="984.3" y="228.3" width="19" height="18" rx="5.5" stroke="#f0f0f0" stroke-width="3.2"/>
 <rect x="984.3" y="228.3" width="19" height="18" rx="5.5" stroke="#fbfbfb" stroke-width="1.2"/>
 <path d="M985.8 361.2V379M992.8 361.2V379M1000.2 361.2V379" stroke="#f1f1f1" stroke-width="3.6" stroke-linecap="round"/>
 <path d="M985.8 361.2V379M992.8 361.2V379M1000.2 361.2V379" stroke="#fcfcfc" stroke-width="1.4" stroke-linecap="round"/>
</svg>

<div class="ind" style="left:47px;top:124.5px;width:160px;height:34.5px"><b>MA</b><i style="left:45px">(5,10,30)</i>
 <svg style="position:absolute;left:138px;top:10.4px" width="12" height="12" viewBox="0 0 12 12" fill="none"><path d="M3 1.8L7.4 6L3 10.2" stroke="#1d2943" stroke-width="1.8" stroke-linecap="round" stroke-linejoin="round"/></svg></div>
<div class="ind" style="left:47px;top:329.5px;width:160px;height:35px"><b>RSI</b><i style="left:44.5px">(14)</i>
 <svg style="position:absolute;left:138px;top:10.4px" width="12" height="12" viewBox="0 0 12 12" fill="none"><path d="M3 1.8L7.4 6L3 10.2" stroke="#1d2943" stroke-width="1.8" stroke-linecap="round" stroke-linejoin="round"/></svg></div>

<svg class="abs" style="left:40px;top:285px" width="30" height="30" viewBox="40 285 30 30">
 <g stroke="#ccd1dc" stroke-width="3.2" stroke-linecap="round"><path d="M46 299.4H62.8M50.2 292.1L58.6 306.7M58.6 292.1L50.2 306.7"/></g>
 <circle cx="54.4" cy="288.3" r="1" fill="#ccd1dc"/><circle cx="54.4" cy="310.3" r="1.1" fill="#ccd1dc"/>
</svg>
<div class="abs wm1">STAR</div>
<div class="abs wm2">TRADER</div>

<div class="abs ax" style="top:122.4px">80.000</div>
<div class="abs ax" style="top:173.7px">72.000</div>
<div class="abs ax" style="top:231.4px">64.000</div>
<div class="abs ax" style="top:262.8px">60.000</div>
<div class="abs ax" style="top:296.8px">56.000</div>
<div class="abs ax" style="top:350.8px">60.00</div>
<div class="abs ax" style="top:386.2px">40.00</div>

<div class="abs xl" style="left:142px">11/2024</div>
<div class="abs xl" style="left:271.3px">12/2024</div>
<div class="abs xl" style="left:400px;font-weight:bold">2025</div>
<div class="abs xl" style="left:535.7px">02/2025</div>
<div class="abs xl" style="left:658.9px">03/2025</div>
<div class="abs xl" style="left:788.1px">04/2025</div>
<div class="abs xl" style="left:874.5px">17/04</div>
</body></html>
